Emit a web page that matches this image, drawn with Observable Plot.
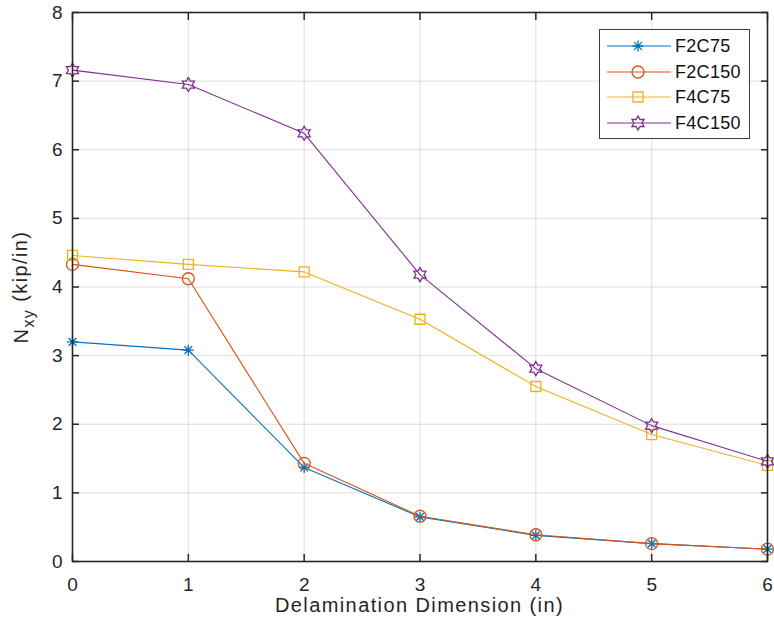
<!DOCTYPE html>
<html><head><meta charset="utf-8">
<script src="https://cdn.jsdelivr.net/npm/d3@7"></script>
<script src="https://cdn.jsdelivr.net/npm/@observablehq/plot@0.6"></script>
<style>
body{margin:0;background:#fff;}
#wrap{position:relative;width:774px;height:633px;font-family:"Liberation Sans",Arial,sans-serif;color:#262626;}
#legend{position:absolute;left:599px;top:29px;width:151px;height:110px;border:1px solid #3a3a3a;background:#fff;box-sizing:border-box;}
.row{position:absolute;left:0;height:26px;width:150px;}
.row svg{position:absolute;left:0;top:0;}
.row span{position:absolute;left:75px;top:3px;font-size:18px;line-height:20px;color:#111;letter-spacing:0.3px;}
</style></head><body><div id="wrap"></div>
<script>
const xValues = [0, 1, 2, 3, 4, 5, 6];
const seriesNames = ["F2C75", "F2C150", "F4C75", "F4C150"];
const F2C75  = [3.20, 3.08, 1.37, 0.65, 0.38, 0.26, 0.18];
const F2C150 = [4.33, 4.12, 1.43, 0.66, 0.39, 0.26, 0.18];
const F4C75  = [4.46, 4.33, 4.22, 3.53, 2.55, 1.85, 1.40];
const F4C150 = [7.16, 6.95, 6.24, 4.18, 2.81, 1.98, 1.46];
const xTicks = [0, 1, 2, 3, 4, 5, 6];
const yTicks = [0, 1, 2, 3, 4, 5, 6, 7, 8];
const colors = ["#0072BD", "#D95319", "#EDB120", "#7E2F8E"];
const xLabel = "Delamination Dimension (in)";

const seriesValues = [F2C75, F2C150, F4C75, F4C150];

const rad = size => Math.sqrt(size / Math.PI);
const symAsterisk = {draw(c, size){ const r = rad(size);
  for (let k = 0; k < 4; k++){ const a = k*Math.PI/4; const dx = r*Math.cos(a), dy = r*Math.sin(a);
    c.moveTo(-dx, -dy); c.lineTo(dx, dy);} }};
const symCircle = {draw(c, size){ const r = rad(size); c.moveTo(r, 0); c.arc(0, 0, r, 0, 2*Math.PI); }};
const symSquare = {draw(c, size){ const r = rad(size); c.rect(-r, -r, 2*r, 2*r); }};
const symHex = {draw(c, size){ const R = rad(size), ri = R/Math.sqrt(3);
  for (let k = 0; k < 12; k++){ const a = -Math.PI/2 + k*Math.PI/6; const rr = k%2 ? ri : R;
    const px = rr*Math.cos(a), py = rr*Math.sin(a); if (k===0) c.moveTo(px,py); else c.lineTo(px,py);} c.closePath(); }};
const symbols = [symAsterisk, symCircle, symSquare, symHex];
const radii = [5.5, 6, 5, 7];

const rows = seriesNames.map((s, k) => xValues.map((x, i) => ({x, y: seriesValues[k][i], s})));

const intFmt = d3.format("d");
const blank = () => "";
const marks = [
  Plot.gridX(xTicks, {stroke: "#262626", strokeOpacity: 0.15}),
  Plot.gridY(yTicks, {stroke: "#262626", strokeOpacity: 0.15}),
];
rows.forEach((d, k) => {
  marks.push(Plot.line(d, {x: "x", y: "y", stroke: colors[k], strokeWidth: 1.1}));
  marks.push(Plot.dot(d, {x: "x", y: "y", stroke: colors[k], fill: "none", symbol: () => symbols[k], r: radii[k], strokeWidth: 1.3}));
});
marks.push(
  Plot.axisX(xTicks, {anchor: "bottom", tickSize: 0, tickPadding: 16, fontSize: 19, tickFormat: intFmt, label: null}),
  Plot.axisX(xTicks, {anchor: "bottom", tickSize: 7, dy: -7, tickFormat: blank, label: null, strokeWidth: 1.5}),
  Plot.axisX(xTicks, {anchor: "top", tickSize: 7, dy: 7, tickFormat: blank, label: null, strokeWidth: 1.5}),
  Plot.axisY(yTicks, {anchor: "left", tickSize: 0, tickPadding: 10, fontSize: 19, tickFormat: intFmt, label: null}),
  Plot.axisY(yTicks, {anchor: "left", tickSize: 7, dx: 7, tickFormat: blank, label: null, strokeWidth: 1.5}),
  Plot.axisY(yTicks, {anchor: "right", tickSize: 7, dx: -7, tickFormat: blank, label: null, strokeWidth: 1.5}),
  Plot.frame({stroke: "#262626", strokeWidth: 1.6})
);

const chart = Plot.plot({
  width: 774, height: 633,
  marginLeft: 72, marginRight: 7, marginTop: 12, marginBottom: 72,
  x: {domain: [0, 6]},
  y: {domain: [0, 8]},
  style: {fontFamily: "'Liberation Sans', Arial, sans-serif", fontSize: "19px", color: "#262626", background: "#fff", overflow: "visible"},
  marks
});

const svg = d3.select(chart);
svg.append("text").attr("x", 419.5).attr("y", 612).attr("text-anchor", "middle")
  .attr("font-size", 20).attr("letter-spacing", "1.4px").attr("fill", "#262626").text(xLabel);
const yl = svg.append("text").attr("transform", "translate(28,287) rotate(-90)")
  .attr("text-anchor", "middle").attr("font-size", 20).attr("letter-spacing", "1.4px").attr("fill", "#262626");
yl.append("tspan").text("N");
yl.append("tspan").attr("font-size", 16).attr("dy", "0.35em").text("xy");
yl.append("tspan").attr("dy", "-0.35em").text(" (kip/in)");

const wrap = document.getElementById("wrap");
wrap.appendChild(chart);
const legend = document.createElement("div");
legend.id = "legend";
seriesNames.forEach((name, k) => {
  const row = document.createElement("div");
  row.className = "row";
  row.style.top = (3 + k*25.7) + "px";
  const s = d3.create("svg").attr("width", 75).attr("height", 26);
  s.append("line").attr("x1", 7).attr("x2", 71).attr("y1", 13).attr("y2", 13).attr("stroke", colors[k]).attr("stroke-width", 1.1);
  s.append("path").attr("d", d3.symbol(symbols[k], Math.PI*radii[k]*radii[k])()).attr("transform", "translate(38,13)")
    .attr("fill", "none").attr("stroke", colors[k]).attr("stroke-width", 1.3);
  row.appendChild(s.node());
  const t = document.createElement("span"); t.textContent = name; row.appendChild(t);
  legend.appendChild(row);
});
wrap.appendChild(legend);
</script></body></html>
